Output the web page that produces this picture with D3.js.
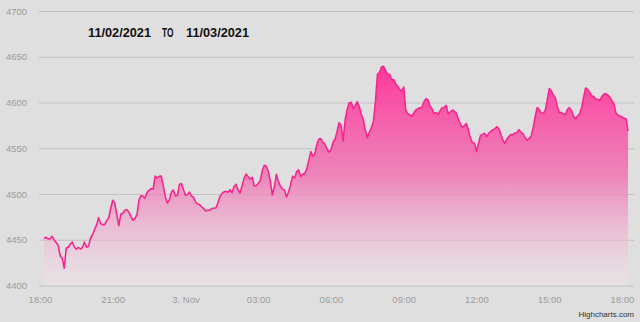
<!DOCTYPE html>
<html>
<head>
<meta charset="utf-8">
<script src="https://cdn.jsdelivr.net/npm/d3@7"></script>
<style>
  body { margin: 0; background: #dfdfdf; }
  svg { display: block; font-family: "Liberation Sans", Arial, sans-serif; }
</style>
</head>
<body>
<script>
// one point every 5 minutes, starting 18:10 on 2 Nov
var startTime = new Date(2021, 10, 2, 18, 10);
var stepMinutes = 5;

var prices = [
  4451.2, 4452.7, 4450.9, 4451.2, 4453.8, 4449.8, 4446.9, 4444.0, 4432.3, 4429.7,
  4418.8, 4441.0, 4441.8, 4445.4, 4447.6, 4442.1, 4439.6, 4441.8, 4439.9, 4441.4,
  4447.6, 4441.8, 4442.8, 4451.6, 4455.2, 4461.1, 4466.2, 4474.2, 4467.6, 4466.5,
  4466.5, 4470.9, 4473.8, 4484.4, 4493.1, 4489.8, 4477.5, 4465.4, 4478.2, 4478.9,
  4482.2, 4482.9, 4480.0, 4475.3, 4471.3, 4473.4, 4477.5, 4493.5, 4498.2, 4497.5,
  4495.6, 4501.8, 4504.0, 4505.8, 4505.5, 4519.7, 4517.5, 4519.3, 4519.7, 4508.8,
  4497.1, 4490.2, 4493.5, 4501.8, 4504.4, 4497.8, 4498.6, 4510.6, 4511.3, 4504.7,
  4498.6, 4499.3, 4502.2, 4497.8, 4496.4, 4491.3, 4489.1, 4488.4, 4485.8, 4484.0,
  4481.4, 4482.2, 4482.2, 4484.0, 4484.4, 4484.7, 4489.8, 4497.1, 4500.4, 4502.2,
  4502.9, 4501.8, 4504.7, 4501.5, 4508.0, 4510.6, 4504.4, 4501.1, 4508.8, 4517.1,
  4521.9, 4519.0, 4516.1, 4518.3, 4508.8, 4509.1, 4511.7, 4514.6, 4525.5, 4531.4,
  4530.3, 4524.4, 4513.5, 4498.9, 4508.1, 4521.5, 4513.5, 4508.4, 4505.5, 4504.4,
  4496.8, 4502.2, 4509.9, 4519.3, 4517.5, 4524.4, 4526.3, 4519.0, 4521.9, 4522.3,
  4527.4, 4536.5, 4546.3, 4541.2, 4543.8, 4554.3, 4560.1, 4560.5, 4556.5, 4554.7,
  4549.2, 4545.9, 4548.1, 4556.5, 4559.8, 4568.2, 4578.0, 4575.0, 4558.0, 4580.9,
  4592.5, 4599.8, 4600.2, 4593.2, 4596.5, 4600.9, 4595.4, 4587.1, 4580.9, 4569.6,
  4561.6, 4567.7, 4572.5, 4579.4, 4600.9, 4630.8, 4633.0, 4638.8, 4639.5, 4635.1,
  4631.1, 4630.8, 4625.3, 4624.9, 4620.6, 4618.0, 4614.0, 4612.6, 4616.9, 4591.1,
  4587.8, 4586.7, 4584.9, 4588.9, 4591.8, 4593.2, 4594.3, 4594.7, 4600.9, 4604.2,
  4602.7, 4596.2, 4592.9, 4588.1, 4588.9, 4587.1, 4591.1, 4594.3, 4594.4, 4596.9,
  4587.8, 4589.6, 4591.8, 4590.4, 4588.5, 4581.6, 4576.9, 4572.9, 4574.7, 4576.9,
  4570.0, 4560.8, 4556.1, 4555.8, 4546.3, 4555.4, 4564.1, 4565.2, 4566.3, 4562.7,
  4566.3, 4568.1, 4570.0, 4571.0, 4573.6, 4571.4, 4566.0, 4558.7, 4555.4, 4560.1,
  4562.7, 4564.9, 4564.9, 4566.7, 4567.0, 4570.3, 4567.8, 4565.6, 4562.0, 4558.7,
  4560.5, 4562.7, 4571.8, 4584.2, 4594.4, 4592.5, 4588.5, 4588.2, 4591.1, 4602.7,
  4615.1, 4612.9, 4608.2, 4605.3, 4595.5, 4588.9, 4588.9, 4587.8, 4586.7, 4592.5,
  4594.4, 4591.1, 4585.3, 4582.3, 4585.3, 4587.8, 4594.0, 4605.7, 4615.9, 4614.4,
  4611.1, 4607.1, 4606.7, 4603.8, 4603.5, 4602.4, 4606.4, 4608.9, 4609.7, 4608.2,
  4605.7, 4602.0, 4598.4, 4588.5, 4586.0, 4585.3, 4584.2, 4582.7, 4582.3, 4569.0
];

var yTicks = [4400, 4450, 4500, 4550, 4600, 4650, 4700];
var xTickHours = [0, 3, 6, 9, 12, 15, 18, 21, 24];
var xTickLabels = ["18:00", "21:00", "3. Nov", "03:00", "06:00", "09:00", "12:00", "15:00", "18:00"];
var titleParts = ["11/02/2021", "TO", "11/03/2021"];

var width = 640, height = 322;
var axisStart = new Date(2021, 10, 2, 18, 0);
var axisEnd = new Date(2021, 10, 3, 18, 0);

var data = prices.map(function(v, i) {
  return { t: d3.timeMinute.offset(startTime, i * stepMinutes), v: v };
});

var x = d3.scaleTime()
  .domain([axisStart, axisEnd])
  .range([40, 622]);

var y = d3.scaleLinear()
  .domain([4400, 4700])
  .range([285.5, 11]);

var svg = d3.select("body").append("svg")
  .attr("width", width)
  .attr("height", height);

var defs = svg.append("defs");
var grad = defs.append("linearGradient")
  .attr("id", "fade")
  .attr("gradientUnits", "userSpaceOnUse")
  .attr("x1", 0).attr("x2", 0)
  .attr("y1", y(4640)).attr("y2", y(4400));
grad.append("stop").attr("offset", 0).attr("stop-color", "#ff3399").attr("stop-opacity", 0.97);
grad.append("stop").attr("offset", 0.5).attr("stop-color", "#f06eb0").attr("stop-opacity", 0.8);
grad.append("stop").attr("offset", 1).attr("stop-color", "#f4e4ec").attr("stop-opacity", 0.35);

// y grid + labels
var yAxis = svg.append("g")
  .attr("transform", "translate(39,0)")
  .call(d3.axisLeft(y)
    .tickValues(yTicks)
    .tickSize(-595)
    .tickFormat(d3.format("d")));

yAxis.select(".domain").remove();
yAxis.selectAll(".tick line")
  .attr("stroke", "#c2c2c2")
  .attr("stroke-width", 1);
yAxis.selectAll(".tick text")
  .attr("x", -33)
  .attr("text-anchor", "start")
  .attr("fill", "#9c9c9c")
  .style("font-size", "9.5px");

// x labels
var xAxis = svg.append("g")
  .attr("transform", "translate(0,296)")
  .call(d3.axisBottom(x)
    .tickValues(xTickHours.map(function(h) { return d3.timeHour.offset(axisStart, h); }))
    .tickSize(0)
    .tickFormat(function(d, i) { return xTickLabels[i]; }));

xAxis.select(".domain").remove();
xAxis.selectAll(".tick text")
  .attr("y", 0)
  .attr("fill", "#9c9c9c")
  .style("font-size", "9.5px");

var area = d3.area()
  .x(function(d) { return x(d.t); })
  .y0(y(4400))
  .y1(function(d) { return y(d.v); });

var line = d3.line()
  .x(function(d) { return x(d.t); })
  .y(function(d) { return y(d.v); });

svg.append("path")
  .datum(data)
  .attr("d", area)
  .attr("fill", "url(#fade)");

svg.append("path")
  .datum(data)
  .attr("d", line)
  .attr("fill", "none")
  .attr("stroke", "#f5278f")
  .attr("stroke-width", 1.6)
  .attr("stroke-linejoin", "round");

// title
var titleX = [88, 162, 186];
var titleW = [63, 11.5, 63];
svg.append("g").selectAll("text")
  .data(titleParts)
  .join("text")
    .attr("x", function(d, i) { return titleX[i]; })
    .attr("y", 37)
    .attr("textLength", function(d, i) { return titleW[i]; })
    .attr("lengthAdjust", "spacingAndGlyphs")
    .attr("fill", "#111")
    .style("font-size", "13.5px")
    .style("font-weight", "bold")
    .text(function(d) { return d; });

svg.append("text")
  .attr("x", 634)
  .attr("y", 317)
  .attr("text-anchor", "end")
  .attr("fill", "#333")
  .style("font-size", "8px")
  .text("Highcharts.com");
</script>
</body>
</html>
